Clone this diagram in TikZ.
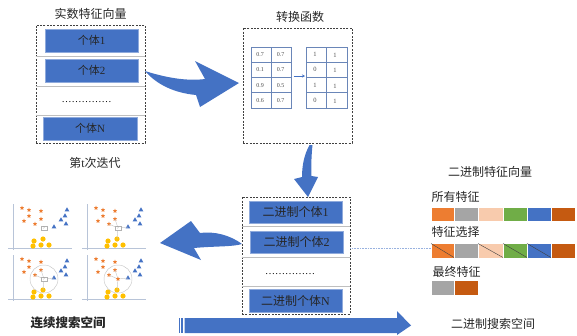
\documentclass[tikz,border=0pt]{standalone}
\usepackage{fontspec}
\setmainfont{Liberation Serif}
\newfontfamily\cjk{Noto Sans CJK SC}
\usetikzlibrary{shapes.geometric,arrows.meta}
\definecolor{blueA}{HTML}{4472C4}
\definecolor{orangeA}{HTML}{ED7D31}
\definecolor{greyA}{HTML}{A5A5A5}
\definecolor{peachA}{HTML}{F8CBAD}
\definecolor{greenA}{HTML}{70AD47}
\definecolor{dorangeA}{HTML}{C55A11}
\definecolor{yellowA}{HTML}{FFC000}
\definecolor{tabline}{HTML}{6A86B8}
\definecolor{axisc}{HTML}{B8C4D8}
\newcommand\zh[1]{{\cjk #1}}
\newcommand\scatterpanel[2]{%
  \draw[axisl] (13,204) -- (13,250);
  \draw[axisl] (8,248) -- (72,248);
  \foreach \x/\y [count=\i] in {22/208,29/210,41/211,29/216,41/219,24/221,35/224}
    \node[starm] (s\i) at (\x,\y) {};
  \foreach \x/\y [count=\i] in {67/210,65/216,61/220,66/224,54/227}
    \node[trim] (t\i) at (\x,\y) {};
  \foreach \x/\y [count=\i] in {34/241,43/239,33/246,41/245,49/245}
    \node[circm] (c\i) at (\x,\y) {};
  \coordinate (q) at (44,228);
  \ifnum#1=1
    \draw[nbline] (q) -- (s5.center);
    \draw[nbline] (q) -- (s7.center);
    \draw[nbline] (q) -- (t5.center);
    \draw[nbline] (q) -- (c2.center);
  \fi
  \ifnum#1=2
    \draw[nbline] (q) circle[radius=14];
    \draw[nbline] (q) -- (s5.center);
    \draw[nbline] (q) -- (s7.center);
    \draw[nbline] (q) -- (t5.center);
    \draw[nbline] (q) -- (c2.center);
  \fi
  \ifnum#2=1
    \node[starm] (qm) at (q) {};
  \else
    \node[qbox] (qm) at (q) {?};
  \fi
}
\begin{document}
\begin{tikzpicture}[x=1pt,y=-1pt,
  dashbox/.style={draw=black!75, dash pattern=on 2pt off 1.3pt, line width=0.6pt},
  bluebox/.style={fill=blueA, draw=blueA!60!white, line width=0.4pt, minimum width=93pt, minimum height=23pt, inner sep=0pt, text=black!85, font=\fontsize{11}{12}\selectfont},
  sepline/.style={draw=black!25, line width=0.6pt},
  title/.style={font=\fontsize{12}{13}\selectfont, text=black!85, inner sep=0pt},
  dotsnode/.style={font=\fontsize{10}{10}\selectfont, inner sep=0pt, anchor=base},
  tabgrid/.style={draw=tabline, line width=0.7pt},
  decn/.style={font=\fontsize{6}{7}\selectfont, text=black!70, inner sep=0pt},
  bitn/.style={font=\fontsize{6.5}{7}\selectfont, text=black!70, inner sep=0pt},
  starm/.style={star, star points=5, star point ratio=2.2, minimum size=4.6pt, inner sep=0pt, fill=orangeA},
  trim/.style={regular polygon, regular polygon sides=3, minimum size=5.4pt, inner sep=0pt, fill=blueA},
  circm/.style={circle, minimum size=5.2pt, inner sep=0pt, fill=yellowA},
  qbox/.style={draw=gray!60, fill=white, minimum width=6pt, minimum height=4.5pt, inner sep=0pt, font=\fontsize{3.5}{4}\selectfont, text=gray},
  axisl/.style={draw=axisc, line width=0.5pt},
  nbline/.style={draw=gray!45, line width=0.45pt},
  bar/.style={draw=white, line width=0.3pt}]
\useasboundingbox (0,0) rectangle (577,335);

% ---------- left: real feature vector ----------
\node[title] (t1) at (90.5,14) {\zh{实数特征向量}};
\node[dashbox, minimum width=109pt, minimum height=118pt, inner sep=0pt] (lbox) at (90.5,84) {};
\draw[sepline] (lbox.west |- 0,56) -- (lbox.east |- 0,56);
\draw[sepline] (lbox.west |- 0,86) -- (lbox.east |- 0,86);
\draw[sepline] (lbox.west |- 0,115) -- (lbox.east |- 0,115);
\node[bluebox] (ind1) at (91.5,40.5) {\zh{个体}1};
\node[bluebox] (ind2) at (91.5,70.5) {\zh{个体}2};
\node[dotsnode] (dots1) at (86.5,102) {……………};
\node[bluebox, minimum width=94pt] (indN) at (90,128.5) {\zh{个体}N};
\node[title] (iter) at (95,163) {\zh{第}t\zh{次迭代}};

% ---------- arrow 1 ----------
\fill[blueA] (145,71) .. controls (170,79) and (190,81) .. (205,79) -- (195,61)
  -- (239,83) -- (200,107) -- (196,95) .. controls (175,93) and (157,85) .. (145,71) -- cycle;

% ---------- middle: transformation ----------
\node[title] (t2) at (300,17) {\zh{转换函数}};
\node[dashbox, minimum width=109pt, minimum height=115pt, inner sep=0pt] (mbox) at (297.5,85.5) {};
\draw[tabgrid] (251,47) rectangle (291,108);
\draw[tabgrid] (306,47) rectangle (347,108);
\foreach \k in {1,2,3} {
  \draw[tabgrid] (251,47+15.25*\k) -- (291,47+15.25*\k);
  \draw[tabgrid] (306,47+15.25*\k) -- (347,47+15.25*\k);
}
\draw[tabgrid] (271,47) -- (271,108);
\draw[tabgrid] (326,47) -- (326,108);
\foreach \a/\b [count=\r] in {0.7/0.7,0.1/0.7,0.9/0.5,0.6/0.7} {
  \node[decn] (la\r) at (260,54.6+15.25*\r-15.25) {\a};
  \node[decn] (lb\r) at (280.5,54.6+15.25*\r-15.25) {\b};
}
\foreach \a/\b [count=\r] in {1/1,0/1,1/1,0/1} {
  \node[bitn] (ra\r) at (315,54.6+15.25*\r-15.25) {\a};
  \node[bitn] (rb\r) at (335,55.6+15.25*\r-15.25) {\b};
}
\coordinate (sa1) at (293.5,76);
\coordinate (sa2) at (305,76);
\draw[blueA, line width=0.8pt, -{Stealth[length=3pt,width=3pt]}] (sa1) -- (sa2);

% ---------- down arrow ----------
\fill[blueA] (309.5,145) .. controls (304,155) and (302,166) .. (302,177) -- (294,179)
  -- (308,197) -- (318,177) -- (311.5,176) .. controls (311,165) and (311.5,155) .. (312.5,145) -- cycle;

% ---------- bottom middle: binary individuals ----------
\node[dashbox, minimum width=108pt, minimum height=117pt, inner sep=0pt] (bbox) at (296,255.5) {};
\draw[sepline] (bbox.west |- 0,226) -- (bbox.east |- 0,226);
\draw[sepline] (bbox.west |- 0,257) -- (bbox.east |- 0,257);
\draw[sepline] (bbox.west |- 0,286) -- (bbox.east |- 0,286);
\node[bluebox, minimum height=22pt, font=\fontsize{12}{13}\selectfont] (b1) at (295.5,212) {\zh{二进制个体}1};
\node[bluebox, minimum height=22pt, font=\fontsize{12}{13}\selectfont] (b2) at (296.5,242) {\zh{二进制个体}2};
\node[dotsnode] (dots2) at (290,274.5) {……………};
\node[bluebox, minimum height=23pt, font=\fontsize{12}{13}\selectfont] (bN) at (295.5,300.5) {\zh{二进制个体}N};

% ---------- arrow 2 (to the left) ----------
\fill[blueA] (242,244) .. controls (230,235) and (214,231) .. (200,233) -- (191,221)
  -- (160,243) -- (201,260) -- (194,248) .. controls (215,246) and (232,247) .. (242,244) -- cycle;

% ---------- scatter panels ----------
\begin{scope}[name prefix=pa-]
  \scatterpanel{0}{0}
\end{scope}
\begin{scope}[shift={(74,0)}, name prefix=pb-]
  \scatterpanel{1}{0}
\end{scope}
\begin{scope}[shift={(0,51)}, name prefix=pc-]
  \scatterpanel{2}{0}
\end{scope}
\begin{scope}[shift={(74,51)}, name prefix=pd-]
  \scatterpanel{2}{1}
\end{scope}
\node[title, font=\fontsize{12.5}{13}\selectfont\bfseries] (cs) at (68,323) {\zh{连续搜索空间}};

% ---------- bottom striped arrow ----------
\fill[blueA] (178.5,318) rectangle (179.8,333);
\fill[blueA] (181,318) rectangle (183.3,333);
\fill[blueA] (184.5,318) -- (397,318) -- (397,311) -- (411,325.5) -- (397,335) -- (397,333) -- (184.5,333) -- cycle;
\node[title, font=\fontsize{12}{13}\selectfont] (bs) at (493,324) {\zh{二进制搜索空间}};

% ---------- right: binary feature vector ----------
\node[title] (t3) at (490,172) {\zh{二进制特征向量}};
\node[title, anchor=west] (all) at (431.5,197) {\zh{所有特征}};
\node[title, anchor=west] (sel) at (431.5,232) {\zh{特征选择}};
\node[title, anchor=west] (fin) at (432.5,272) {\zh{最终特征}};
\foreach \xa/\xb/\c in {431/454/orangeA,454/478/greyA,478/503/peachA,503/527/greenA,527/551/blueA,551/575/dorangeA} {
  \fill[\c] (\xa,207) rectangle (\xb,221);
  \draw[bar] (\xa,207) rectangle (\xb,221);
  \fill[\c] (\xa,243) rectangle (\xb,258);
  \draw[bar] (\xa,243) rectangle (\xb,258);
}
\foreach \xa/\xb in {431/454,478/503,503/527,527/551}
  \draw[black!75, line width=0.4pt] (\xa,243.5) -- (\xb,257.5);
\fill[greyA] (431,280) rectangle (454,295);
\fill[dorangeA] (454,280) rectangle (478,295);
\draw[bar] (431,280) rectangle (454,295);
\draw[bar] (454,280) rectangle (478,295);
\coordinate (selrow) at (431,248);
\draw[draw=blueA!55, line width=0.6pt, dash pattern=on 1pt off 0.6pt] (bbox.east |- 0,248) -- (selrow);
\end{tikzpicture}
\end{document}
